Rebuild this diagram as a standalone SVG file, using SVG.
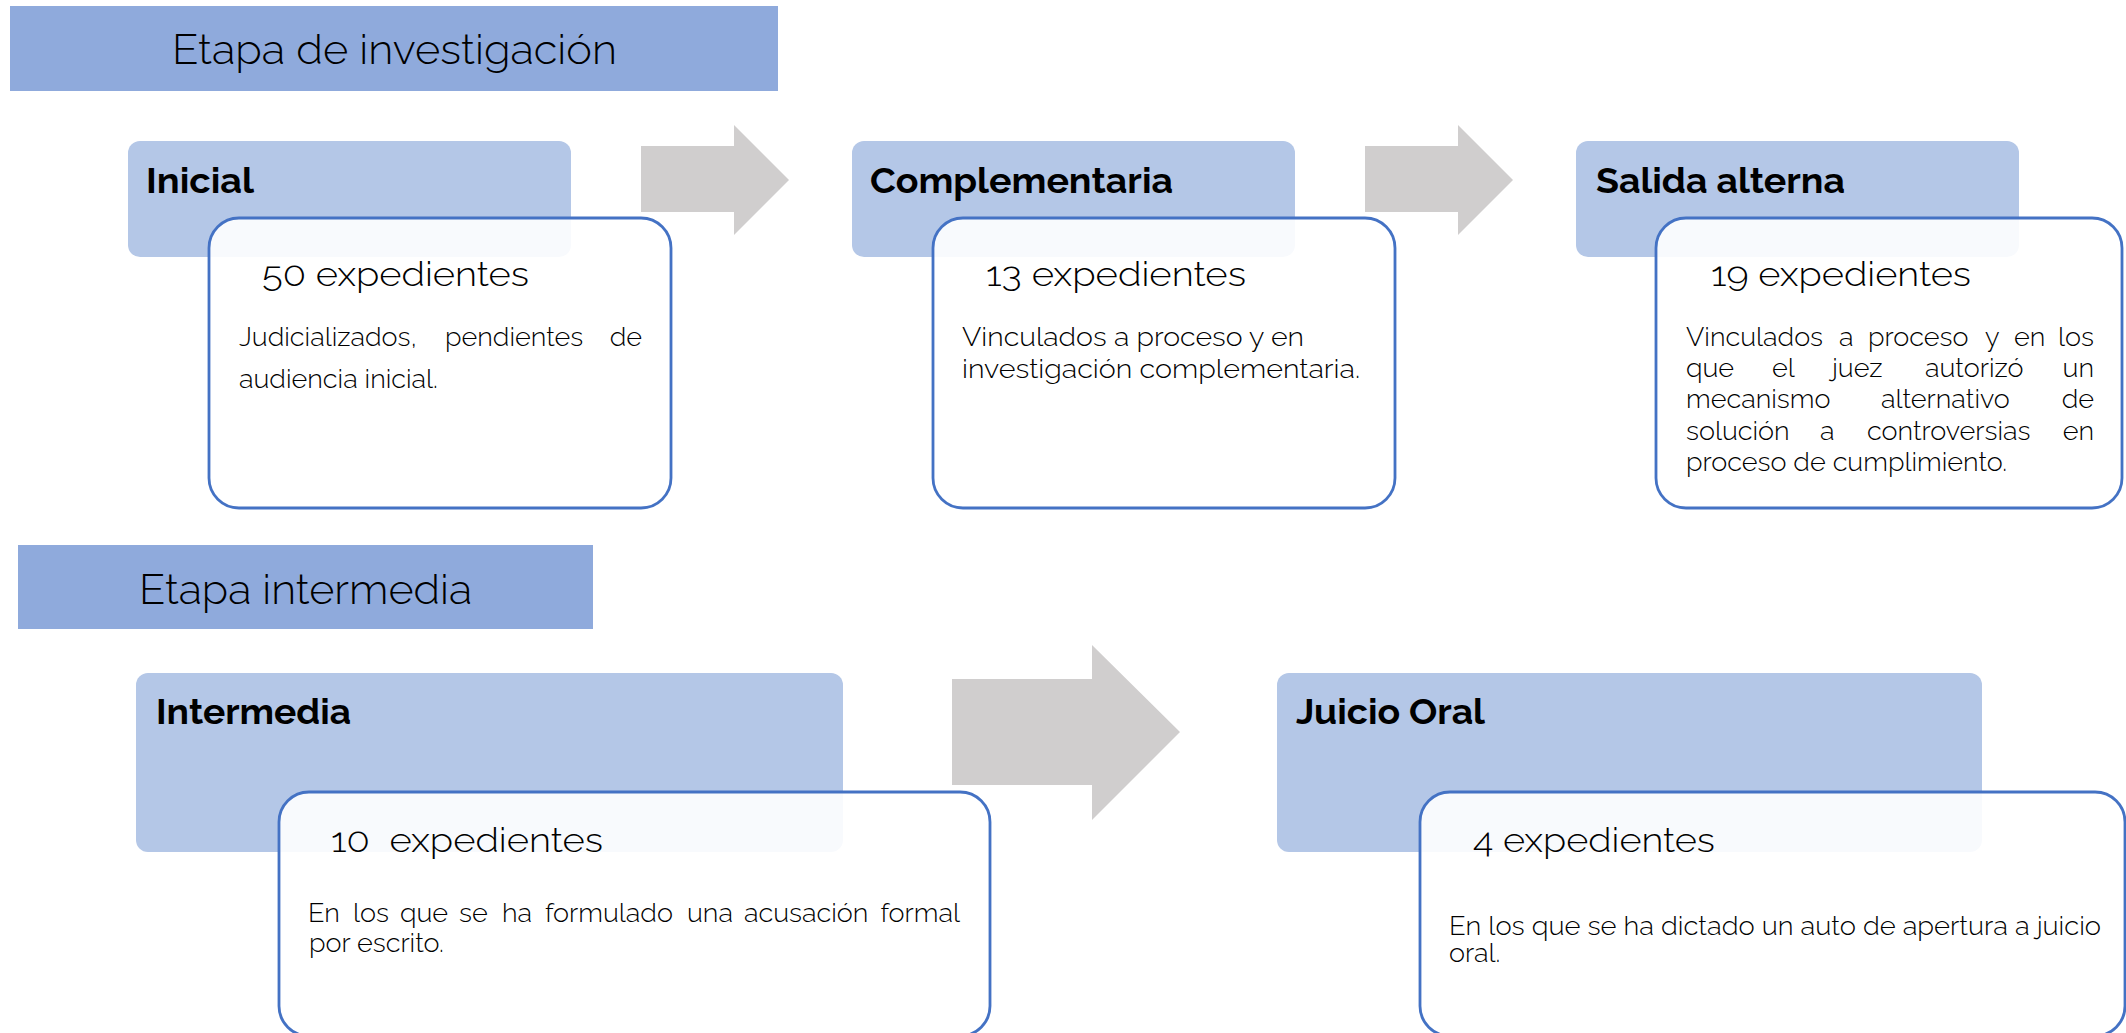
<svg xmlns="http://www.w3.org/2000/svg" width="2126" height="1033" viewBox="0 0 2126 1033">
<style>
.title{fill:#8FAADC}
.hdr{fill:#B4C7E7}
.card{fill:#FFFFFF;fill-opacity:0.9;stroke:#4472C4;stroke-width:2.8}
.arrow{fill:#D0CECE}
text{font-family:Raleway,"Open Sans",Lato,sans-serif;fill:#000}
.tt{font-size:42px;font-weight:300}
.hd{font-size:36px;font-weight:700}
.ct{font-size:34px;font-weight:300}
.ds{font-size:27px;font-weight:300}
</style>
<rect width="2126" height="1033" fill="#FFFFFF"/>

<g id="etapa-investigacion">
<rect class="title" x="10" y="6" width="768" height="85"/>
<text class="tt" x="172" y="64" textLength="445" lengthAdjust="spacingAndGlyphs">Etapa de investigación</text>
</g>

<g id="etapa-intermedia">
<rect class="title" x="18" y="545" width="575" height="84"/>
<text class="tt" x="139" y="604" textLength="333" lengthAdjust="spacingAndGlyphs">Etapa intermedia</text>
</g>

<g id="connectors">
<polygon class="arrow" points="641,146 734,146 734,125 789,180 734,235 734,212 641,212"/>
<polygon class="arrow" points="1365,146 1458,146 1458,125 1513,180 1458,235 1458,212 1365,212"/>
<polygon class="arrow" points="952,679 1092,679 1092,645 1180,732 1092,820 1092,785 952,785"/>
</g>

<g id="inicial">
<rect class="hdr" x="128" y="141" width="443" height="116" rx="12"/>
<text class="hd" x="146" y="193" textLength="108" lengthAdjust="spacingAndGlyphs">Inicial</text>
<rect class="card" x="209" y="218" width="462" height="290" rx="30"/>
<text class="ct" x="262" y="286" textLength="267" lengthAdjust="spacingAndGlyphs">50 expedientes</text>
<text class="ds" x="239" y="346">Judicializados,</text>
<text class="ds" x="445" y="346">pendientes</text>
<text class="ds" x="642" y="346" text-anchor="end">de</text>
<text class="ds" x="239" y="388">audiencia inicial.</text>
</g>

<g id="complementaria">
<rect class="hdr" x="852" y="141" width="443" height="116" rx="12"/>
<text class="hd" x="870" y="193" textLength="303" lengthAdjust="spacingAndGlyphs">Complementaria</text>
<rect class="card" x="933" y="218" width="462" height="290" rx="30"/>
<text class="ct" x="986" y="286" textLength="260" lengthAdjust="spacingAndGlyphs">13 expedientes</text>
<text class="ds" x="962" y="346" textLength="342" lengthAdjust="spacingAndGlyphs">Vinculados a proceso y en</text>
<text class="ds" x="962" y="378" textLength="398" lengthAdjust="spacingAndGlyphs">investigación complementaria.</text>
</g>

<g id="salida-alterna">
<rect class="hdr" x="1576" y="141" width="443" height="116" rx="12"/>
<text class="hd" x="1596" y="193" textLength="249" lengthAdjust="spacingAndGlyphs">Salida alterna</text>
<rect class="card" x="1656" y="218" width="466" height="290" rx="30"/>
<text class="ct" x="1711" y="286" textLength="260" lengthAdjust="spacingAndGlyphs">19 expedientes</text>
<text class="ds" x="1686" y="346">Vinculados</text>
<text class="ds" x="1839" y="346">a</text>
<text class="ds" x="1868" y="346">proceso</text>
<text class="ds" x="1985" y="346">y</text>
<text class="ds" x="2014" y="346">en</text>
<text class="ds" x="2094" y="346" text-anchor="end">los</text>
<text class="ds" x="1686" y="377">que</text>
<text class="ds" x="1772" y="377">el</text>
<text class="ds" x="1832" y="377">juez</text>
<text class="ds" x="1925" y="377">autorizó</text>
<text class="ds" x="2094" y="377" text-anchor="end">un</text>
<text class="ds" x="1686" y="408">mecanismo</text>
<text class="ds" x="1881" y="408">alternativo</text>
<text class="ds" x="2094" y="408" text-anchor="end">de</text>
<text class="ds" x="1686" y="440">solución</text>
<text class="ds" x="1820" y="440">a</text>
<text class="ds" x="1867" y="440">controversias</text>
<text class="ds" x="2094" y="440" text-anchor="end">en</text>
<text class="ds" x="1686" y="471">proceso de cumplimiento.</text>
</g>

<g id="intermedia">
<rect class="hdr" x="136" y="673" width="707" height="179" rx="12"/>
<text class="hd" x="156" y="724" textLength="195" lengthAdjust="spacingAndGlyphs">Intermedia</text>
<rect class="card" x="279" y="792" width="711" height="244" rx="30"/>
<text class="ct" x="331" y="852" textLength="272" lengthAdjust="spacingAndGlyphs" xml:space="preserve">10  expedientes</text>
<text class="ds" x="308" y="922">En</text>
<text class="ds" x="353" y="922">los</text>
<text class="ds" x="400" y="922">que</text>
<text class="ds" x="459" y="922">se</text>
<text class="ds" x="502" y="922">ha</text>
<text class="ds" x="545" y="922">formulado</text>
<text class="ds" x="687" y="922">una</text>
<text class="ds" x="744" y="922">acusación</text>
<text class="ds" x="960" y="922" text-anchor="end">formal</text>
<text class="ds" x="309" y="952">por escrito.</text>
</g>

<g id="juicio-oral">
<rect class="hdr" x="1277" y="673" width="705" height="179" rx="12"/>
<text class="hd" x="1296" y="724" textLength="189" lengthAdjust="spacingAndGlyphs">Juicio Oral</text>
<rect class="card" x="1420" y="792" width="705" height="244" rx="30"/>
<text class="ct" x="1473" y="852" textLength="242" lengthAdjust="spacingAndGlyphs">4 expedientes</text>
<text class="ds" x="1449" y="935" textLength="652" lengthAdjust="spacingAndGlyphs">En los que se ha dictado un auto de apertura a juicio</text>
<text class="ds" x="1449" y="962">oral.</text>
</g>
</svg>
